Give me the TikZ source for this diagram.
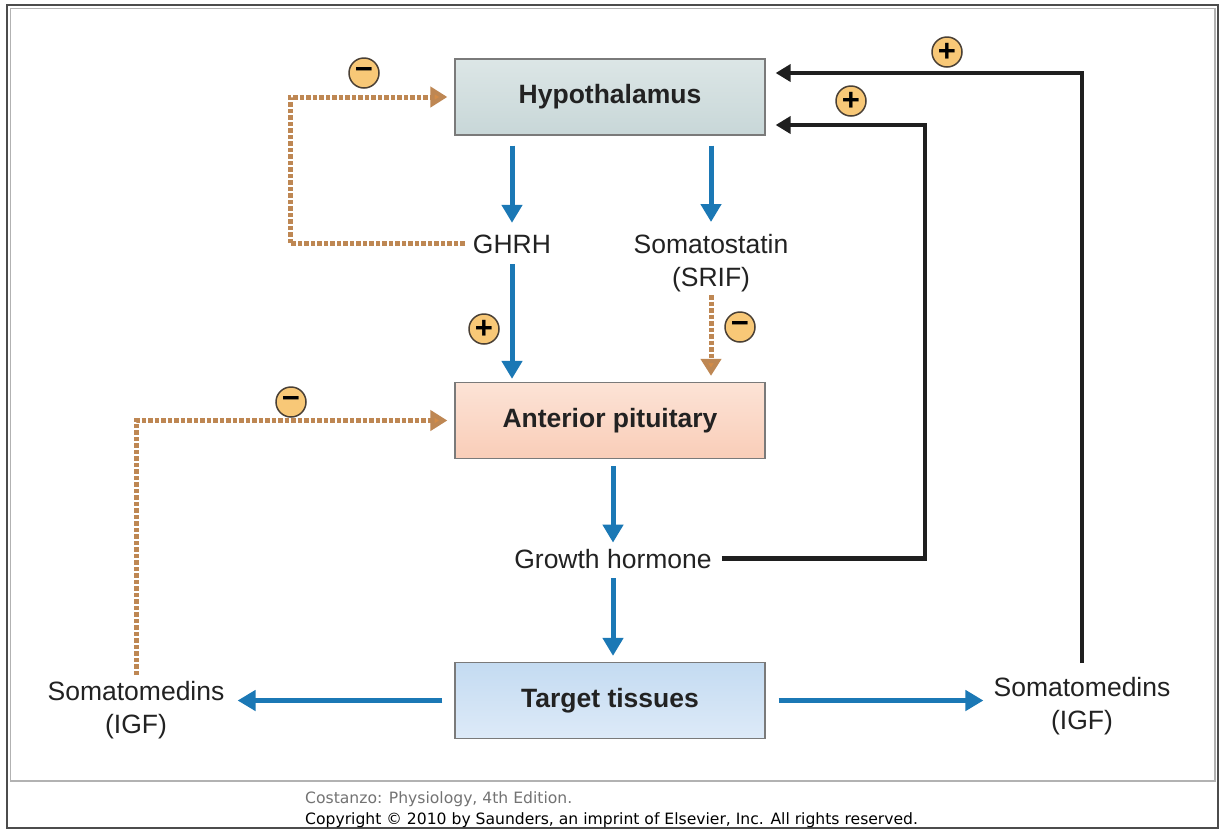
\documentclass[tikz,border=0pt]{standalone}
\usepackage{fontspec}
\setmainfont{Liberation Sans}
\newfontfamily\notefont{DejaVu Sans}
\usetikzlibrary{arrows.meta,calc}

\definecolor{ink}{HTML}{222222}
\definecolor{flowblue}{HTML}{1B78B5}
\definecolor{inhibit}{HTML}{BE8753}
\definecolor{inhibittip}{HTML}{D38C48}
\definecolor{badgefill}{HTML}{F8C877}
\definecolor{badgeline}{HTML}{4A4035}
\definecolor{boxline}{HTML}{7A7A7A}
\definecolor{hypTop}{HTML}{DCE6E6}
\definecolor{hypBot}{HTML}{C8D7D8}
\definecolor{apTop}{HTML}{FCE3D6}
\definecolor{apMid}{HTML}{F5B79B}
\definecolor{apBot}{HTML}{F9CDB8}
\definecolor{ttTop}{HTML}{C4DBF1}
\definecolor{ttMid}{HTML}{CFE2F5}
\definecolor{ttBot}{HTML}{DDEAF8}

\tikzset{
  organ/.style={draw=boxline, line width=1.3pt, minimum width=310pt, minimum height=76pt,
    inner sep=0pt, font=\fontsize{26.5}{32}\selectfont\bfseries, text=ink},
  lbl/.style={inner sep=0pt, font=\fontsize{26.5}{33}\selectfont, text=ink, align=center},
  stim/.style={draw=flowblue, line width=5pt, -{Triangle[length=18pt,width=20pt]}},
  feedback/.style={draw=black!88, line width=4.5pt, -{Triangle[length=15pt,width=17pt]}},
  inhib/.style={draw=inhibit, line width=5pt, dash pattern=on 4.5pt off 2pt,
    -{Triangle[length=17pt,width=20pt,fill=inhibittip]}},
  badge/.style={circle, draw=badgeline, line width=1.5pt, fill=badgefill, minimum size=30pt,
    inner sep=0pt, font=\fontsize{31}{31}\selectfont\bfseries, text=black},
  credit/.style={anchor=base west, inner sep=0pt, font=\notefont\fontsize{15.6}{18}\selectfont},
}

\begin{document}
\begin{tikzpicture}[x=1pt,y=-1pt]
\useasboundingbox (0,0) rectangle (1223,831);
\fill[white] (0,0) rectangle (1223,831);

% page frame and diagram panel
\draw[line width=2pt, black!70] (7,5) rectangle (1218,828);
\draw[line width=1.5pt, black!30] (10.5,8.5) rectangle (1215,781);

% organs
\node[organ, top color=hypTop, bottom color=hypBot] (hyp) at (610,97) {Hypothalamus};
\node[organ, top color=apTop, middle color=apMid, bottom color=apBot] (ap) at (610,420.5) {Anterior pituitary};
\node[organ, top color=ttTop, middle color=ttMid, bottom color=ttBot] (tt) at (610,700.5) {Target tissues};

% hormones
\node[lbl, anchor=base] (ghrh) at (512,253) {GHRH};
\node[lbl, anchor=north] (sst) at (711,234) {Somatostatin\\(SRIF)};
\node[lbl, anchor=base] (gh) at (613,568) {Growth hormone};
\node[lbl, anchor=north] (smL) at (136,681) {Somatomedins\\(IGF)};
\node[lbl, anchor=north] (smR) at (1082,677) {Somatomedins\\(IGF)};

% secretion
\draw[stim, shorten <=10pt, shorten >=11.5pt] (hyp.south -| ghrh) -- (ghrh.north);
\draw[stim, shorten <=10pt, shorten >=12pt] (hyp.south -| sst) -- (sst.north);
\draw[stim, shorten <=11pt, shorten >=3pt] (ghrh.south) -- (ap.north -| ghrh);
\draw[inhib, shorten <=3pt, shorten >=6pt] (sst.south) -- (ap.north -| sst);
\draw[stim, shorten <=7pt, shorten >=6pt] (ap.south -| gh) -- (gh.north);
\draw[stim, shorten <=10pt, shorten >=6pt] (gh.south) -- (tt.north -| gh);
\draw[stim, shorten <=12pt, shorten >=13pt] (tt.west) -- (smL.east |- tt.west);
\draw[stim, shorten <=13pt, shorten >=10pt] (tt.east) -- (smR.west |- tt.east);

% positive feedback
\coordinate (ghbend) at (925,125);
\draw[feedback, shorten <=10pt, shorten >=10pt] (gh.east) -| (ghbend) -- (hyp.east |- ghbend);
\coordinate (igfbend) at (1082,73);
\draw[feedback, shorten <=14pt, shorten >=10pt] (smR.north) -- (igfbend) -- (hyp.east |- igfbend);

% negative feedback
\coordinate (ghrhbend) at (290,97);
\draw[inhib, shorten <=8pt, shorten >=7pt] (ghrh.west) -| (ghrhbend) -- (hyp.west);
\draw[inhib, shorten <=6pt, shorten >=7pt] (smL.north) |- (ap.west);

% signs
\node[badge] (sgnA) at (364,73) {−};
\node[badge] (sgnB) at (947,52) {+};
\node[badge] (sgnC) at (851,101) {+};
\node[badge] (sgnD) at (484,329) {+};
\node[badge] (sgnE) at (740,327) {−};
\node[badge] (sgnF) at (291,402) {−};

% credit line
\node[credit, text=black!55] (src) at (305,803) {Costanzo: Physiology, 4th Edition.};
\node[credit, text=black] (copy) at (305,824) {Copyright © 2010 by Saunders, an imprint of Elsevier, Inc. All rights reserved.};
\end{tikzpicture}
\end{document}
